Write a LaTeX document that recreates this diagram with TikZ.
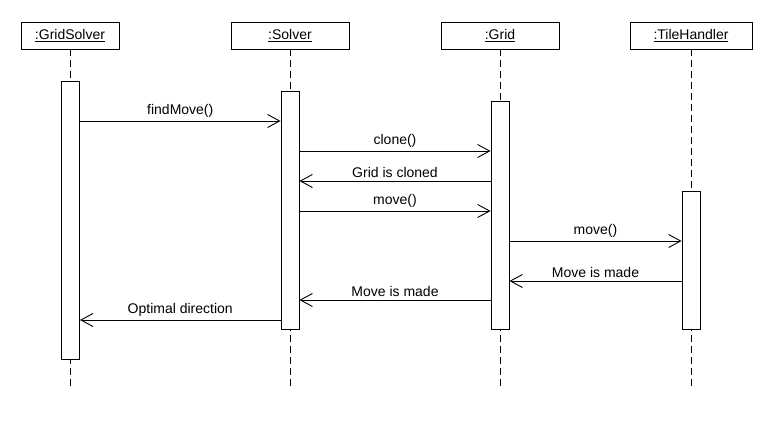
\documentclass[tikz,border=0pt]{standalone}
\usepackage{fontspec}
\setmainfont{Liberation Sans}
\usetikzlibrary{arrows.meta,calc}
\begin{document}
\begin{tikzpicture}[x=1pt,y=-1pt,
  font=\fontsize{14}{16}\selectfont,
  every path/.style={line width=0.9pt},
  head/.style={draw, fill=white, minimum height=27pt, inner sep=0pt, line width=0.9pt},
  act/.style={draw, fill=white, minimum width=18pt, inner sep=0pt, line width=0.9pt},
  life/.style={dash pattern=on 7pt off 4pt, line width=0.9pt},
  msg/.style={-{Straight Barb[length=12pt,width=13pt,line width=0.9pt]}, line width=0.9pt},
  lbl/.style={anchor=base, inner sep=0pt}
]
\useasboundingbox (0,0) rectangle (770,430);
\fill[white] (0,0) rectangle (770,430);

% heads
\node[head, minimum width=98pt]  (gs) at (70,35.5)  {\underline{:GridSolver}};
\node[head, minimum width=118pt] (sv) at (290,35.5) {\underline{:Solver}};
\node[head, minimum width=118pt] (gr) at (500,35.5) {\underline{:Grid}};
\node[head, minimum width=122pt] (th) at (691,35.5) {\underline{:TileHandler}};

% lifeline ends
\coordinate (gsE) at (70,390);
\coordinate (svE) at (290,390);
\coordinate (grE) at (500,390);
\coordinate (thE) at (691,390);

\draw[life] (gs.south) -- (gsE);
\draw[life] (sv.south) -- (svE);
\draw[life] (gr.south) -- (grE);
\draw[life] (th.south) -- (thE);

% activations
\node[act, minimum height=278pt] (gsA) at (70.5,220) {};
\node[act, minimum height=238pt] (svA) at (290,210) {};
\node[act, minimum height=228pt] (grA) at (500,215) {};
\node[act, minimum height=138pt] (thA) at (691,260) {};

% message levels
\coordinate (m1) at (0,121);
\coordinate (m2) at (0,151);
\coordinate (m3) at (0,181);
\coordinate (m4) at (0,211);
\coordinate (m5) at (0,241);
\coordinate (m6) at (0,281);
\coordinate (m7) at (0,300);
\coordinate (m8) at (0,320);

\draw[msg] (gsA.east |- m1) -- node[lbl, above=3pt] {findMove()} (svA.west |- m1);
\draw[msg] (svA.east |- m2) -- node[lbl, above=3pt] {clone()} (grA.west |- m2);
\draw[msg] (grA.west |- m3) -- node[lbl, above=3pt] {Grid is cloned} (svA.east |- m3);
\draw[msg] (svA.east |- m4) -- node[lbl, above=3pt] {move()} (grA.west |- m4);
\draw[msg] (grA.east |- m5) -- node[lbl, above=3pt] {move()} (thA.west |- m5);
\draw[msg] (thA.west |- m6) -- node[lbl, above=3pt] {Move is made} (grA.east |- m6);
\draw[msg] (grA.west |- m7) -- node[lbl, above=3pt] {Move is made} (svA.east |- m7);
\draw[msg] (svA.west |- m8) -- node[lbl, above=3pt] {Optimal direction} (gsA.east |- m8);
\end{tikzpicture}
\end{document}
